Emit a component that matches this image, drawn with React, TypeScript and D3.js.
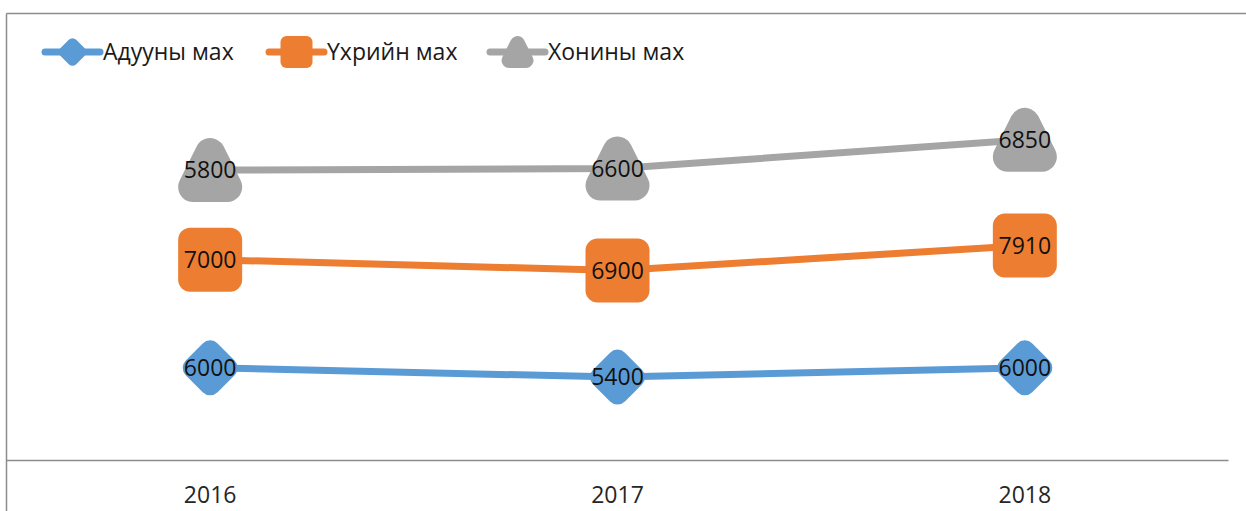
import React from "react";
import * as d3 from "d3";

const categories = ["2016", "2017", "2018"];
const seriesNames = ["Адууны мах", "Үхрийн мах", "Хонины мах"];
const horse = [6000, 5400, 6000];
const beef = [7000, 6900, 7910];
const mutton = [5800, 6600, 6850];
const colors = ["#5B9BD5", "#ED7D31", "#A5A5A5"];
const shapes = ["diamond", "square", "triangle"];
const yDomainMax = 25000;

const W = 1246;
const H = 511;
const FONT = "'Open Sans', 'Noto Sans', sans-serif";

function Marker({ shape, color, cx, cy, s }: { shape: string; color: string; cx: number; cy: number; s: number }) {
  if (shape === "square") {
    const a = 32 * s;
    return <rect x={cx - a} y={cy - a} width={2 * a} height={2 * a} rx={12 * s} fill={color} />;
  }
  if (shape === "diamond") {
    const a = 17 * s;
    const pts = [[cx, cy - a], [cx + a, cy], [cx, cy + a], [cx - a, cy]].map((p) => p.join(",")).join(" ");
    return <polygon points={pts} fill={color} stroke={color} strokeWidth={21 * s} strokeLinejoin="round" />;
  }
  const a = 17 * s;
  const pts = [[cx, cy - a], [cx + a, cy + a], [cx - a, cy + a]].map((p) => p.join(",")).join(" ");
  return <polygon points={pts} fill={color} stroke={color} strokeWidth={30 * s} strokeLinejoin="round" />;
}

export default function App() {
  const data = [horse, beef, mutton];
  const table = categories.map((c, i) => {
    const row: any = { cat: c };
    seriesNames.forEach((n, j) => (row[n] = data[j][i]));
    return row;
  });
  const stack = d3.stack<any>().keys(seriesNames)(table);

  const x = d3.scaleBand<string>().domain(categories).range([6.5, 1228.5]);
  const y = d3.scaleLinear().domain([0, yDomainMax]).range([460.5, 74.3]);
  const cx = (c: string) => (x(c) as number) + x.bandwidth() / 2;

  const line = d3
    .line<any>()
    .x((d) => cx(d.data.cat))
    .y((d) => y(d[1]));

  const legendX = [45, 269, 490];

  return (
    <svg width={W} height={H} style={{ position: "absolute", left: 0, top: 0, background: "#fff" }}>
      <rect x={0} y={0} width={W} height={H} fill="#fff" />
      {/* frame */}
      <line x1={6.5} y1={13.5} x2={W} y2={13.5} stroke="#8c8c8c" strokeWidth={1.5} />
      <line x1={6.5} y1={13.5} x2={6.5} y2={H} stroke="#8c8c8c" strokeWidth={1.5} />
      {/* x axis */}
      <line x1={6.5} y1={460.5} x2={1228.5} y2={460.5} stroke="#8c8c8c" strokeWidth={1.5} />
      {categories.map((c) => (
        <text key={c} x={cx(c)} y={503} textAnchor="middle" fontFamily={FONT} fontSize={23} fill="#262626">
          {c}
        </text>
      ))}
      {/* lines */}
      {stack.map((s, j) => (
        <path key={"l" + j} d={line(s as any) || ""} fill="none" stroke={colors[j]} strokeWidth={7} strokeLinecap="round" />
      ))}
      {/* markers */}
      {stack.map((s, j) =>
        s.map((d: any, i: number) => (
          <Marker key={"m" + j + i} shape={shapes[j]} color={colors[j]} cx={cx(d.data.cat)} cy={y(d[1])} s={1} />
        ))
      )}
      {/* labels */}
      {stack.map((s, j) =>
        s.map((d: any, i: number) => (
          <text
            key={"t" + j + i}
            x={cx(d.data.cat)}
            y={y(d[1])}
            dy="0.36em"
            textAnchor="middle"
            fontFamily={FONT}
            fontSize={23}
            fill="#111"
          >
            {data[j][i]}
          </text>
        ))
      )}
      {/* legend */}
      {seriesNames.map((n, j) => (
        <g key={"lg" + j}>
          <line x1={legendX[j]} y1={52} x2={legendX[j] + 55} y2={52} stroke={colors[j]} strokeWidth={7} strokeLinecap="round" />
          <Marker shape={shapes[j]} color={colors[j]} cx={legendX[j] + 27.5} cy={52} s={0.5} />
          <text x={legendX[j] + 58} y={52} dy="0.36em" fontFamily={FONT} fontSize={23} fill="#1a1a1a">
            {n}
          </text>
        </g>
      ))}
    </svg>
  );
}
